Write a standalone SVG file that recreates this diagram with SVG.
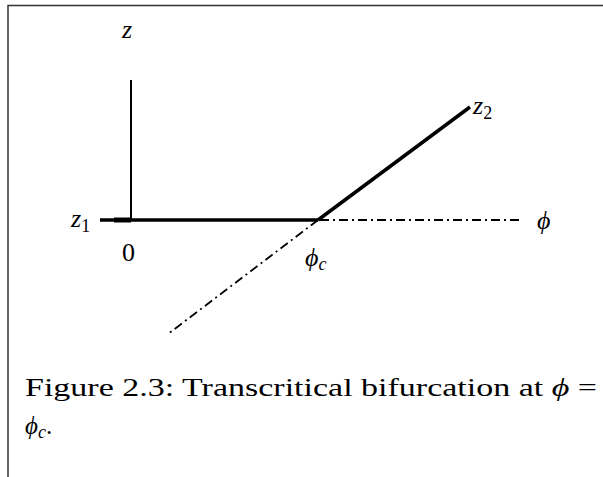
<svg xmlns="http://www.w3.org/2000/svg" width="603" height="477" viewBox="0 0 603 477">
<style>
.thick{stroke:#000;stroke-width:3.5;fill:none}
.thin{stroke:#000;stroke-width:2;fill:none}
.dd{stroke:#000;stroke-width:1.8;fill:none;stroke-dasharray:9 4 2 4}
</style>
<rect width="603" height="477" fill="#fff"/>
<path d="M8 477 V5.5 H603" stroke="#333" stroke-width="1.5" fill="none"/>
<g id="connectors">
<line class="thin" x1="131" y1="80" x2="131" y2="220"/>
<line class="thick" x1="100" y1="220" x2="318" y2="220"/>
<line stroke="#000" stroke-width="5" x1="114" y1="220" x2="131" y2="220"/>
<line class="thick" x1="318" y1="220" x2="470" y2="107"/>
<line class="dd" x1="320" y1="220" x2="522" y2="220"/>
<line class="dd" x1="318" y1="220" x2="168" y2="334"/>
</g>
<g id="labels" font-family="Liberation Serif, serif" fill="#000" font-size="26">
<text font-style="italic" x="122" y="38">z</text>
<text font-style="italic" x="71" y="227">z<tspan font-size="18" font-style="normal" dy="5">1</tspan></text>
<text x="122" y="261">0</text>
<text font-style="italic" x="305" y="266">ϕ<tspan font-size="18" dy="4">c</tspan></text>
<text font-style="italic" x="473" y="114">z<tspan font-size="18" font-style="normal" dy="5">2</tspan></text>
<text font-style="italic" x="537" y="229">ϕ</text>
</g>
<g id="caption" font-family="Liberation Serif, serif" fill="#000" font-size="25">
<text x="25" y="396" textLength="572" lengthAdjust="spacingAndGlyphs">Figure 2.3: Transcritical bifurcation at <tspan font-style="italic">ϕ</tspan> =</text>
<text x="25" y="434"><tspan font-style="italic">ϕ</tspan><tspan font-style="italic" font-size="18" dy="4">c</tspan><tspan dy="-4">.</tspan></text>
</g>
</svg>
